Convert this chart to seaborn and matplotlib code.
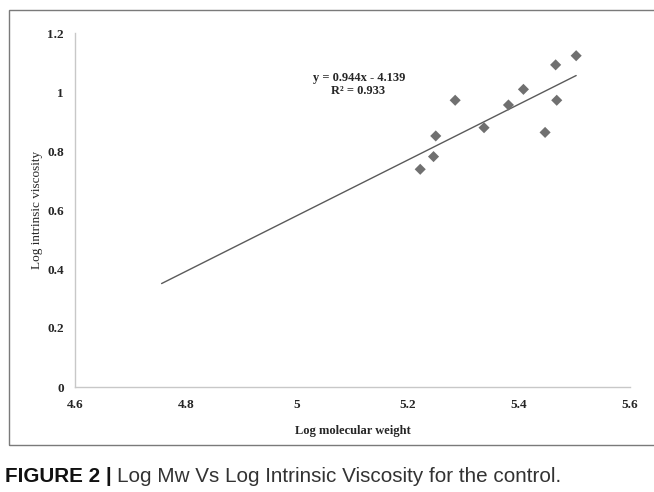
import numpy as np
import pandas as pd
import matplotlib
matplotlib.use("Agg")
import matplotlib.pyplot as plt
from matplotlib.patches import Rectangle
import seaborn as sns

# ---- data ----
log_mw = [5.222, 5.246, 5.250, 5.285, 5.337, 5.381, 5.408, 5.447, 5.466, 5.468, 5.503]
log_iv = [0.738, 0.781, 0.851, 0.972, 0.879, 0.956, 1.009, 0.863, 1.092, 0.972, 1.123]
slope = 0.944
intercept = -4.139
r_squared = 0.933
trend_x = [4.756, 5.503]
x_ticks = [4.6, 4.8, 5.0, 5.2, 5.4, 5.6]
x_tick_labels = ["4.6", "4.8", "5", "5.2", "5.4", "5.6"]
y_ticks = [0, 0.2, 0.4, 0.6, 0.8, 1.0, 1.2]
y_tick_labels = ["0", "0.2", "0.4", "0.6", "0.8", "1", "1.2"]

sns.set_theme(style="white")
plt.rcParams["font.family"] = ["Liberation Serif", "DejaVu Serif"]

fig = plt.figure(figsize=(6.54, 4.92), dpi=100)
ax = fig.add_axes([75 / 654, 1 - 387 / 492, 555 / 654, 354 / 492])

pts = pd.DataFrame({"x": log_mw, "y": log_iv})
trend = pd.DataFrame({"x": trend_x, "y": [slope * v + intercept for v in trend_x]})

sns.lineplot(data=trend, x="x", y="y", ax=ax, color="#5a5a5a", linewidth=1.0)
sns.scatterplot(data=pts, x="x", y="y", ax=ax, marker="D", s=32,
                color="#707070", edgecolor="none", zorder=3)

ax.set_xlim(4.6, 5.6)
ax.set_ylim(0, 1.2)
ax.set_xticks(x_ticks)
ax.set_xticklabels(x_tick_labels, fontweight="bold", fontsize=9.5)
ax.set_yticks(y_ticks)
ax.set_yticklabels(y_tick_labels, fontweight="bold", fontsize=9.5)
ax.tick_params(axis="x", length=0, pad=9)
ax.tick_params(axis="y", length=0, pad=8)
for s in ["top", "right"]:
    ax.spines[s].set_visible(False)
for s in ["left", "bottom"]:
    ax.spines[s].set_color("#c8c8c8")
    ax.spines[s].set_linewidth(1.0)

ax.set_xlabel("Log molecular weight", fontweight="bold", fontsize=9, labelpad=10)
ax.set_ylabel("Log intrinsic viscosity", fontsize=9.5, labelpad=3)

fig.text(359 / 654, 1 - 78 / 492, f"y = {slope}x - {abs(intercept)}",
         ha="center", va="center", fontweight="bold", fontsize=9)
fig.text(358 / 654, 1 - 91 / 492, f"R² = {r_squared}",
         ha="center", va="center", fontweight="bold", fontsize=9)

# chart border
fig.patches.append(Rectangle((9 / 654, 1 - 445 / 492), 660 / 654, 435 / 492,
                             transform=fig.transFigure, fill=False,
                             edgecolor="#7a7a7a", linewidth=1.0))

cap_family = ["Liberation Sans", "DejaVu Sans"]
t1 = fig.text(5 / 654, 1 - 477 / 492, "FIGURE 2 | ", ha="left", va="center",
              fontweight="bold", fontsize=14.9, family=cap_family, color="#111111")
fig.canvas.draw()
bb = t1.get_window_extent(renderer=fig.canvas.get_renderer())
fig.text(bb.x1 / fig.bbox.width, 1 - 477 / 492,
         "Log Mw Vs Log Intrinsic Viscosity for the control.",
         ha="left", va="center", fontsize=14.9, family=cap_family, color="#333333")

fig.savefig("out.png", dpi=100)
